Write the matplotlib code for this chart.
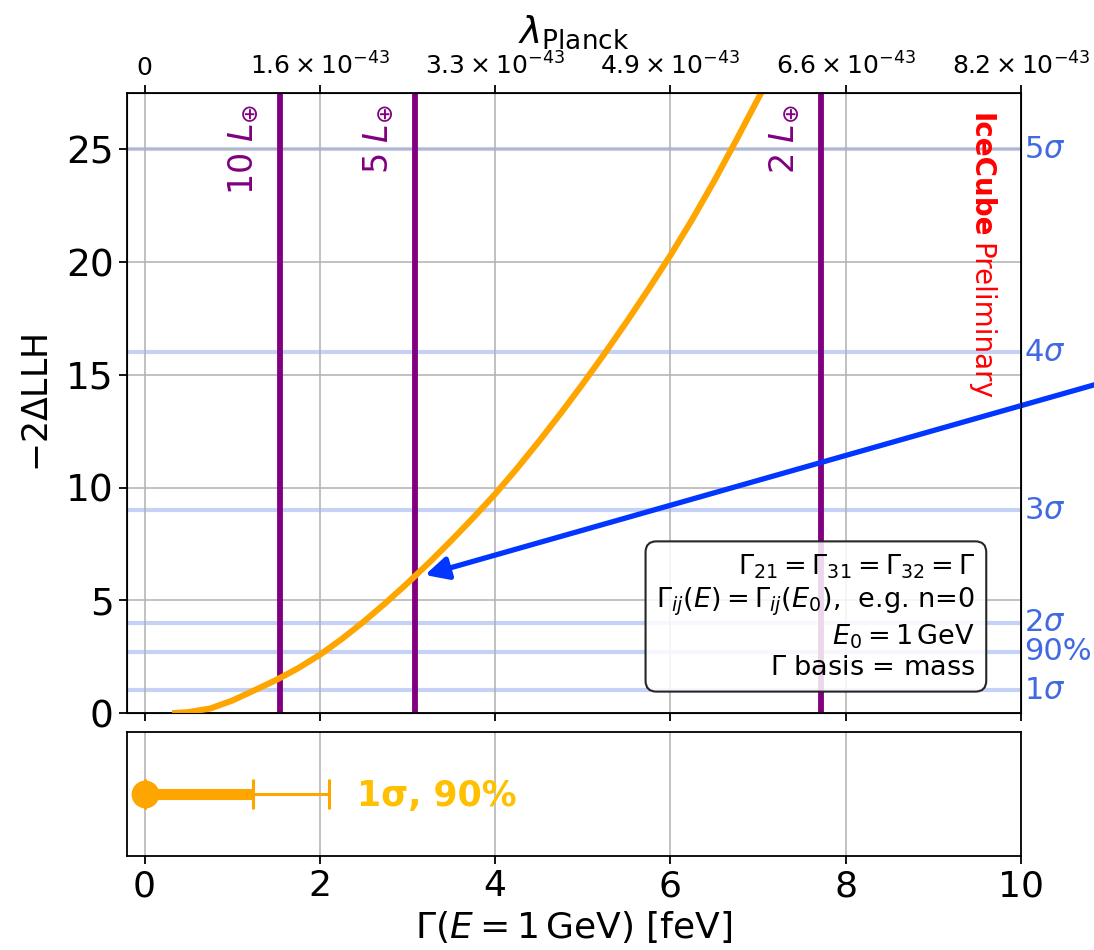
import matplotlib
matplotlib.use("Agg")
import matplotlib.pyplot as plt
import matplotlib.transforms as mtransforms

# orange profile curve
gamma = [0.35, 0.5, 0.75, 1.0, 1.25, 1.5, 1.75, 2.0, 2.25, 2.5, 2.75, 3.0,
         3.25, 3.5, 3.75, 4.0, 4.25, 4.5, 4.75, 5.0, 5.25, 5.5, 5.75, 6.0,
         6.25, 6.5, 6.75, 7.0, 7.05]
llh = [0.0, 0.04, 0.2, 0.55, 1.0, 1.46, 1.98, 2.58, 3.28, 4.05, 4.88, 5.76,
       6.68, 7.65, 8.66, 9.71, 10.85, 12.05, 13.3, 14.6, 15.95, 17.35, 18.8, 20.3,
       21.9, 23.6, 25.4, 27.25, 27.6]

# reference lines
sigma_vals = [1, 2.71, 4, 9, 16, 25]
sigma_labels = [r'$1\sigma$', '90%', r'$2\sigma$', r'$3\sigma$', r'$4\sigma$', r'$5\sigma$']
earth_gamma = [1.544, 3.088, 7.72]
earth_labels = [r'10 $L_{\oplus}$', r'5 $L_{\oplus}$', r'2 $L_{\oplus}$']

# top axis
top_ticks = [0, 2, 4, 6, 8, 10]
top_labels = ['0', r'$1.6\times10^{-43}$', r'$3.3\times10^{-43}$',
              r'$4.9\times10^{-43}$', r'$6.6\times10^{-43}$', r'$8.2\times10^{-43}$']

# limits in the lower panel
best_fit = 0.0
lim_1sigma = 1.233
lim_90 = 2.11

arrow_tip = (3.2, 6.12)
arrow_tail = (11.6, 15.4)

info_text = '\n'.join([
    r'$\Gamma_{21} = \Gamma_{31} = \Gamma_{32} = \Gamma$',
    r'$\Gamma_{ij}(E) = \Gamma_{ij}(E_0)$,  e.g. n=0',
    r'$E_0 = 1\,\mathrm{GeV}$',
    r'$\Gamma$ basis = mass',
])

W, H = 1094, 950
fig = plt.figure(figsize=(W / 100, H / 100), dpi=100)
ax = fig.add_axes([127 / W, 1 - 713 / H, (1021 - 127) / W, (713 - 93) / H])
ax2 = fig.add_axes([127 / W, 1 - 856 / H, (1021 - 127) / W, (856 - 732) / H])

for a in (ax, ax2):
    a.set_xlim(-0.2, 10)
    a.grid(True, color='#b0b0b0', lw=1.1)
    for s in a.spines.values():
        s.set_linewidth(1.3)
    a.tick_params(width=1.3, length=6)

ax.set_ylim(0, 27.5)
ax.set_xticks(top_ticks)
ax.set_yticks([0, 5, 10, 15, 20, 25])
ax.tick_params(labelbottom=False, labelsize=27)
ax.set_ylabel(r'$-2\Delta$LLH', fontsize=25, labelpad=8)

for v in sigma_vals:
    ax.axhline(v, color='royalblue', alpha=0.3, lw=3, zorder=1)
trans = mtransforms.blended_transform_factory(ax.transAxes, ax.transData)
for v, lab in zip(sigma_vals, sigma_labels):
    ax.text(1.003, v, lab, transform=trans, color='royalblue', fontsize=22,
            ha='left', va='center', clip_on=False)

for g, lab in zip(earth_gamma, earth_labels):
    ax.axvline(g, color='purple', lw=4.2, zorder=2)
    ax.text(g - 0.22, 27.0, lab, rotation=90, color='purple', fontsize=24,
            ha='right', va='top')

ax.plot(gamma, llh, color='orange', lw=4.4, zorder=3, solid_joinstyle='round')

ax.annotate('', xy=arrow_tip, xytext=arrow_tail, annotation_clip=False,
            arrowprops=dict(arrowstyle='-|>', color='#0036ff', lw=3.8,
                            mutation_scale=34, shrinkA=0, shrinkB=0),
            zorder=4)

ax.text(0.949, 0.052, info_text, transform=ax.transAxes, ha='right', va='bottom',
        fontsize=19.5, linespacing=1.2, zorder=5,
        bbox=dict(boxstyle='round,pad=0.4', fc=(1, 1, 1, 0.85), ec='0.15', lw=1.5))

ax.text(0.9545, 0.968, 'IceCube', transform=ax.transAxes, rotation=-90,
        color='red', fontweight='bold', fontsize=20, ha='center', va='top')
ax.text(0.9545, 0.758, 'Preliminary', transform=ax.transAxes, rotation=-90,
        color='red', fontsize=20, ha='center', va='top')

axt = ax.twiny()
axt.set_xlim(-0.2, 10)
axt.set_xticks(top_ticks)
axt.set_xticklabels(top_labels)
axt.tick_params(labelsize=18, width=1.3, length=6)
axt.set_xlabel(r'$\lambda_{\mathrm{Planck}}$', fontsize=27, labelpad=7)

# lower panel: limits
ax2.set_ylim(-1, 1)
ax2.set_yticks([])
ax2.errorbar([best_fit], [0], xerr=[[0], [lim_90]], fmt='none', ecolor='orange',
             elinewidth=2.2, capsize=11, capthick=2.2)
ax2.errorbar([best_fit], [0], xerr=[[0], [lim_1sigma]], fmt='o', color='orange',
             ms=19, elinewidth=8, capsize=11, capthick=2.2)
ax2.text(2.42, -0.2, '1σ, 90%', color='#FFC000', fontweight='bold', fontsize=25,
         ha='left', va='baseline')
ax2.set_xticks(top_ticks)
ax2.tick_params(labelsize=26)
ax2.set_xlabel(r'$\Gamma(E = 1\,\mathrm{GeV})$ [feV]', fontsize=26, labelpad=4)

fig.savefig('out.png', dpi=100)
